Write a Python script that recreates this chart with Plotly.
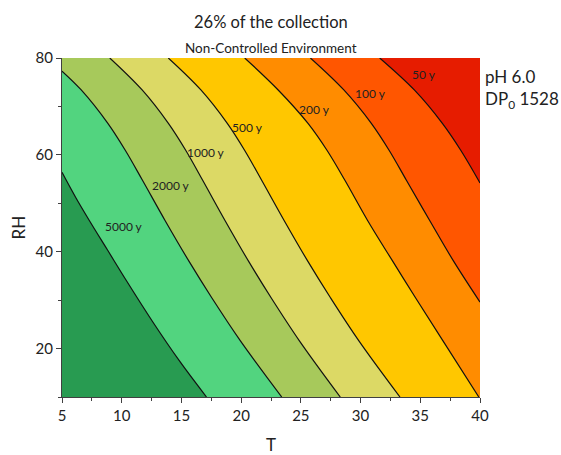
import plotly.graph_objects as go

# Axis limits of the isochrone chart
T_MIN, T_MAX = 5, 40
RH_MIN, RH_MAX = 10, 80

# Isochrones (years until the paper reaches end of useful life), traced as (T, RH) points
iso_5000_T = [5.0, 6.15, 7.3, 8.8, 10.4, 12.55, 14.85, 17.1]
iso_5000_RH = [56.4, 51.2, 46.4, 40.4, 34.0, 25.7, 17.4, 10.0]

iso_2000_T = [5.0, 6.61, 8.84, 10.31, 11.75, 13.64, 15.64, 17.54, 19.94, 23.4]
iso_2000_RH = [77.3, 73.4, 66.5, 60.9, 54.7, 46.4, 38.0, 30.5, 21.6, 10.0]

iso_1000_T = [9.0, 11.71, 13.91, 15.37, 16.79, 18.66, 20.63, 22.51, 24.88, 28.3]
iso_1000_RH = [80.0, 73.4, 66.5, 60.9, 54.7, 46.4, 38.0, 30.5, 21.6, 10.0]

iso_500_T = [13.9, 16.63, 18.84, 20.3, 21.73, 23.61, 25.59, 27.48, 29.86, 33.3]
iso_500_RH = [80.0, 73.4, 66.5, 60.9, 54.7, 46.4, 38.0, 30.5, 21.6, 10.0]

iso_200_T = [20.3, 23.1, 25.6, 27.2, 28.7, 30.6, 32.7, 34.6, 36.9, 39.9]
iso_200_RH = [80.0, 73.4, 66.5, 60.9, 54.7, 46.4, 38.0, 30.5, 21.6, 10.0]

iso_100_T = [25.8, 28.6, 30.9, 32.4, 33.85, 35.8, 37.8, 40.0]
iso_100_RH = [80.0, 73.4, 66.5, 60.9, 54.7, 46.4, 38.0, 29.6]

iso_50_T = [31.6, 34.5, 36.85, 38.4, 40.0]
iso_50_RH = [80.0, 73.4, 66.5, 60.9, 54.2]

iso_T = [iso_5000_T, iso_2000_T, iso_1000_T, iso_500_T, iso_200_T, iso_100_T, iso_50_T]
iso_RH = [iso_5000_RH, iso_2000_RH, iso_1000_RH, iso_500_RH, iso_200_RH, iso_100_RH, iso_50_RH]

# Contour labels (left edge of text) next to each isochrone
iso_labels = ["5000 y", "2000 y", "1000 y", "500 y", "200 y", "100 y", "50 y"]
label_T = [8.45, 12.4, 15.3, 19.1, 24.7, 29.4, 34.1]
label_RH = [45.2, 53.7, 60.5, 65.7, 69.4, 72.7, 76.5]

# Band colours from longest lifetime (bottom-left) to shortest (top-right)
band_colors = ["#289B51", "#52D47F", "#A7C95B", "#DCD965",
               "#FFC700", "#FF8C00", "#FF5600", "#E61C00"]

FONT = "Lato, 'Open Sans', sans-serif"
TEXT = "#222222"


def frame_path(ts, rhs):
    """Path along the plot frame from an isochrone's first point to its last,
    passing round the warm/humid corner(s)."""
    xs, ys = [ts[0]], [rhs[0]]
    if ts[0] <= T_MIN and rhs[0] < RH_MAX:
        xs.append(T_MIN)
        ys.append(RH_MAX)
    xs.append(T_MAX)
    ys.append(RH_MAX)
    if rhs[-1] <= RH_MIN and ts[-1] < T_MAX:
        xs.append(T_MAX)
        ys.append(RH_MIN)
    xs.append(ts[-1])
    ys.append(rhs[-1])
    return xs, ys


fig = go.Figure()

# Filled bands: each isochrone (smoothed) is filled to its frame path,
# every band laid over the previous one
for i, (ts, rhs) in enumerate(zip(iso_T, iso_RH)):
    fx, fy = frame_path(ts, rhs)
    fig.add_trace(go.Scatter(
        x=fx, y=fy, mode="lines", line=dict(width=0),
        hoverinfo="skip", showlegend=False,
    ))
    fig.add_trace(go.Scatter(
        x=ts, y=rhs, mode="lines", fill="tonexty",
        fillcolor=band_colors[i + 1],
        line=dict(width=0, shape="spline", smoothing=1),
        hoverinfo="skip", showlegend=False,
    ))

# Isochrone lines
for ts, rhs in zip(iso_T, iso_RH):
    fig.add_trace(go.Scatter(
        x=ts, y=rhs, mode="lines",
        line=dict(color="#111111", width=1.2, shape="spline", smoothing=1),
        hoverinfo="skip", showlegend=False,
    ))

# Contour labels
for txt, t, rh in zip(iso_labels, label_T, label_RH):
    fig.add_annotation(x=t, y=rh, text=txt, showarrow=False,
                       xanchor="left", yanchor="middle",
                       font=dict(family=FONT, size=12, color=TEXT))

# Titles
fig.add_annotation(x=0.5, y=1, xref="paper", yref="paper", yshift=36,
                   text="26% of the collection", showarrow=False,
                   xanchor="center", yanchor="middle",
                   font=dict(family=FONT, size=16.5, color=TEXT))
fig.add_annotation(x=0.5, y=1, xref="paper", yref="paper", yshift=10,
                   text="Non-Controlled Environment", showarrow=False,
                   xanchor="center", yanchor="middle",
                   font=dict(family=FONT, size=13.5, color=TEXT))

# Paper properties
fig.add_annotation(x=1, y=1, xref="paper", yref="paper", xshift=3, yshift=-18,
                   text="pH 6.0", showarrow=False, xanchor="left", yanchor="middle",
                   font=dict(family=FONT, size=17, color=TEXT))
fig.add_annotation(x=1, y=1, xref="paper", yref="paper", xshift=3, yshift=-42,
                   text="DP<sub>0</sub> 1528", showarrow=False, xanchor="left", yanchor="middle",
                   font=dict(family=FONT, size=17, color=TEXT))

# Axis titles
fig.add_annotation(x=0, y=0.5, xref="paper", yref="paper", xshift=-44,
                   text="RH", textangle=-90, showarrow=False,
                   xanchor="center", yanchor="middle",
                   font=dict(family=FONT, size=17, color=TEXT))
fig.add_annotation(x=0.5, y=0, xref="paper", yref="paper", yshift=-47,
                   text="T", showarrow=False, xanchor="center", yanchor="middle",
                   font=dict(family=FONT, size=17, color=TEXT))

axis_common = dict(
    showgrid=False, zeroline=False, showline=True,
    linecolor="#404040", linewidth=1.2,
    ticks="outside", ticklen=5, tickwidth=1.2, tickcolor="#404040",
    tickfont=dict(family=FONT, size=15, color=TEXT),
    mirror=False,
)

fig.update_xaxes(range=[T_MIN, T_MAX], tick0=5, dtick=5,
                 minor=dict(ticks="outside", dtick=2.5, tick0=5, ticklen=3,
                            tickcolor="#404040", tickwidth=1.2),
                 **axis_common)
fig.update_yaxes(range=[RH_MIN, RH_MAX], tick0=0, dtick=20,
                 minor=dict(ticks="outside", dtick=10, tick0=0, ticklen=3,
                            tickcolor="#404040", tickwidth=1.2),
                 **axis_common)

fig.update_layout(
    width=561, height=455,
    margin=dict(l=62, r=81, t=58, b=58),
    plot_bgcolor=band_colors[0],
    paper_bgcolor="white",
    font=dict(family=FONT),
)

fig.write_html("out.html")
